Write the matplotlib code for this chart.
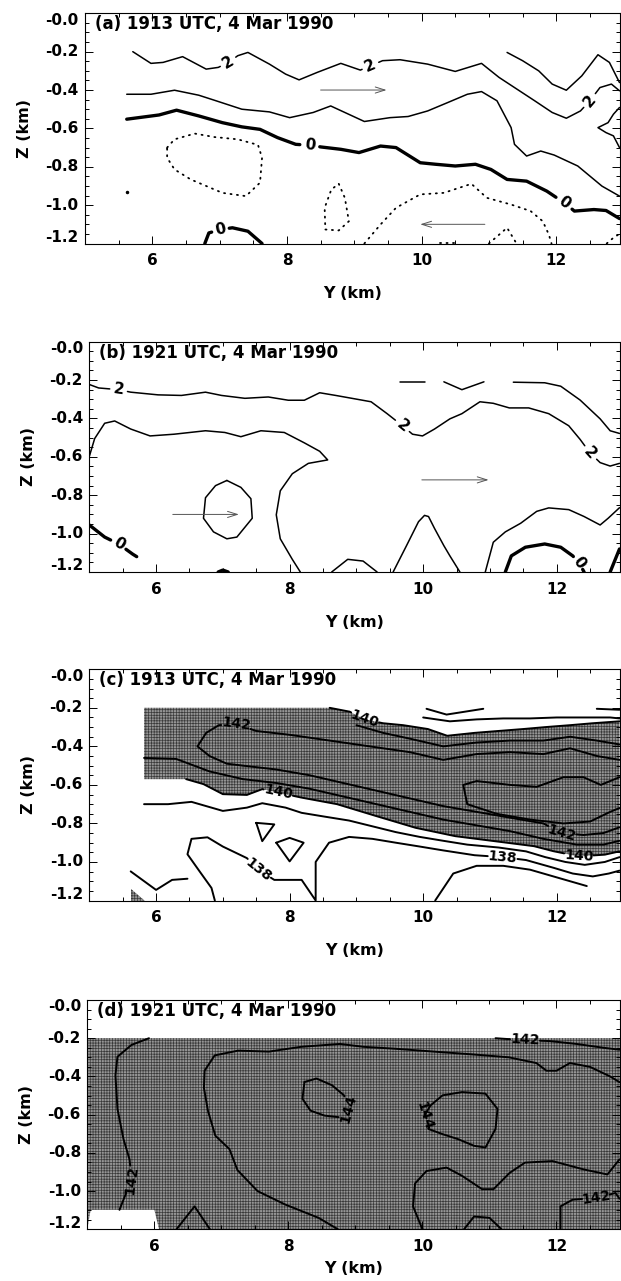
import numpy as np
import matplotlib.pyplot as plt
from matplotlib.ticker import MultipleLocator

plt.rcParams['font.family'] = 'DejaVu Sans'
plt.rcParams['font.weight'] = 'bold'
plt.rcParams['hatch.linewidth'] = 0.5

# ---- common axis setup ----
x_ticks = [6, 8, 10, 12]
z_ticks = [0.0, -0.2, -0.4, -0.6, -0.8, -1.0, -1.2]
z_ticklabels = ['-0.0', '-0.2', '-0.4', '-0.6', '-0.8', '-1.0', '-1.2']
titles = ['(a) 1913 UTC, 4 Mar 1990', '(b) 1921 UTC, 4 Mar 1990',
          '(c) 1913 UTC, 4 Mar 1990', '(d) 1921 UTC, 4 Mar 1990']

# ---- panel (a): cross-section, contour lines ----
a_2top_y = [5.71, 5.98, 6.16, 6.45, 6.80, 6.98, 7.13, 7.27, 7.42, 7.74, 7.98, 8.18, 8.45, 8.80, 9.09,
            9.24, 9.42, 9.68, 10.09, 10.50, 10.89, 11.15, 11.38, 11.68, 11.94, 12.15, 12.36, 12.50,
            12.65, 12.82, 12.94]
a_2top_z = [-0.200, -0.261, -0.256, -0.226, -0.291, -0.282, -0.256, -0.221, -0.204, -0.265, -0.317,
            -0.347, -0.308, -0.261, -0.296, -0.274, -0.247, -0.242, -0.265, -0.303, -0.261, -0.334,
            -0.387, -0.456, -0.517, -0.547, -0.509, -0.456, -0.387, -0.369, -0.404]
a_2right_y = [11.27, 11.50, 11.74, 11.94, 12.15, 12.38, 12.62, 12.79, 12.94]
a_2right_z = [-0.204, -0.247, -0.300, -0.369, -0.401, -0.326, -0.216, -0.256, -0.361]
a_1_y = [5.62, 5.98, 6.33, 6.69, 6.92, 7.33, 7.74, 8.04, 8.39, 8.65, 8.86, 9.15, 9.53, 9.80, 10.09,
         10.39, 10.68, 10.89, 11.12, 11.33, 11.38, 11.56, 11.77, 11.97, 12.32, 12.68, 12.94]
a_1_z = [-0.422, -0.422, -0.401, -0.427, -0.453, -0.500, -0.514, -0.544, -0.517, -0.483, -0.517,
         -0.564, -0.544, -0.538, -0.509, -0.465, -0.422, -0.408, -0.456, -0.596, -0.683, -0.744,
         -0.718, -0.739, -0.796, -0.901, -0.953]
a_loop_y = [12.94, 12.85, 12.77, 12.62, 12.74, 12.85, 12.94]
a_loop_z = [-0.491, -0.526, -0.570, -0.596, -0.622, -0.639, -0.700]
a_0_y = [5.62, 6.10, 6.36, 6.69, 7.04, 7.33, 7.60, 7.86, 8.13, 8.34, 8.51, 8.80, 9.07, 9.39, 9.62,
         9.98, 10.21, 10.50, 10.80, 11.03, 11.27, 11.56, 11.86, 12.12, 12.27, 12.56, 12.74, 12.94]
a_0_z = [-0.552, -0.530, -0.505, -0.535, -0.570, -0.592, -0.605, -0.648, -0.683, -0.688, -0.697,
         -0.709, -0.726, -0.692, -0.700, -0.779, -0.787, -0.796, -0.787, -0.814, -0.866, -0.875,
         -0.927, -0.988, -1.031, -1.023, -1.028, -1.070]
a_0low_y = [6.78, 6.84, 7.01, 7.19, 7.42, 7.63]
a_0low_z = [-1.20, -1.145, -1.127, -1.118, -1.136, -1.20]
a_neg1_y = [6.22, 6.33, 6.63, 6.92, 7.27, 7.57, 7.63, 7.60, 7.39, 7.04, 6.57, 6.33, 6.22, 6.22]
a_neg1_z = [-0.700, -0.657, -0.627, -0.645, -0.657, -0.686, -0.753, -0.883, -0.953, -0.936, -0.866,
            -0.814, -0.753, -0.700]
a_neg2_y = [8.77, 8.86, 8.92, 8.77, 8.57, 8.56, 8.66, 8.77]
a_neg2_z = [-0.889, -0.962, -1.084, -1.132, -1.127, -1.014, -0.918, -0.889]
a_neg3_y = [9.15, 9.39, 9.62, 9.98, 10.33, 10.74, 10.97, 11.33, 11.62, 11.80, 11.89, 11.93]
a_neg3_z = [-1.20, -1.101, -1.014, -0.944, -0.936, -0.889, -0.962, -0.997, -1.031, -1.084, -1.153, -1.20]
a_neg4_y = [11.00, 11.27, 11.41]
a_neg4_z = [-1.20, -1.118, -1.20]
a_neg5_y = [10.28, 10.50]
a_neg5_z = [-1.195, -1.195]
a_neg6_y = [12.75, 12.85, 12.94]
a_neg6_z = [-1.20, -1.17, -1.15]
a_dot_y = [5.63]
a_dot_z = [-0.93]
a_arrows = [((8.50, -0.40), (9.48, -0.40)), ((10.94, -1.10), (9.98, -1.10))]

# ---- panel (b) ----
b_2_y = [5.00, 5.14, 5.44, 5.62, 6.03, 6.38, 6.74, 6.98, 7.33, 7.68, 7.98, 8.22, 8.45, 8.69, 8.98,
         9.22, 9.46, 9.69, 9.84, 9.99, 10.17, 10.40, 10.58, 10.85, 11.05, 11.29, 11.58, 11.88,
         12.18, 12.35, 12.50, 12.65, 12.80, 12.94]
b_2_z = [-0.223, -0.241, -0.250, -0.263, -0.277, -0.280, -0.263, -0.280, -0.295, -0.288, -0.305,
         -0.305, -0.266, -0.280, -0.298, -0.313, -0.375, -0.438, -0.482, -0.491, -0.455, -0.402,
         -0.375, -0.313, -0.321, -0.345, -0.345, -0.375, -0.438, -0.509, -0.580, -0.630, -0.648,
         -0.634]
b_top1_y = [9.66, 10.02]
b_top1_z = [-0.209, -0.209]
b_top2_y = [10.31, 10.58, 10.91]
b_top2_z = [-0.209, -0.250, -0.209]
b_top3_y = [11.35, 11.82, 12.06, 12.35, 12.65, 12.80, 12.94]
b_top3_z = [-0.211, -0.214, -0.232, -0.304, -0.402, -0.464, -0.478]
b_big_y = [5.00, 5.08, 5.23, 5.38, 5.62, 5.91, 6.27, 6.74, 7.03, 7.27, 7.57, 7.92, 8.22, 8.45,
           8.57, 8.28, 8.04, 7.86, 7.80, 7.86, 8.04, 8.16]
b_big_z = [-0.598, -0.505, -0.425, -0.413, -0.455, -0.491, -0.482, -0.464, -0.473, -0.495, -0.464,
           -0.473, -0.527, -0.571, -0.616, -0.634, -0.688, -0.777, -0.902, -1.027, -1.134, -1.20]
b_ring_y = [7.06, 7.27, 7.42, 7.44, 7.21, 7.06, 6.86, 6.71, 6.74, 6.89, 7.06]
b_ring_z = [-0.723, -0.759, -0.818, -0.920, -1.018, -1.027, -0.991, -0.920, -0.813, -0.750, -0.723]
b_bump_y = [8.63, 8.87, 9.10, 9.31]
b_bump_z = [-1.20, -1.134, -1.143, -1.20]
b_spike_y = [9.55, 9.75, 9.93, 10.02, 10.08, 10.17, 10.31, 10.40, 10.55]
b_spike_z = [-1.20, -1.063, -0.938, -0.905, -0.911, -0.973, -1.063, -1.116, -1.20]
b_right_y = [10.93, 11.05, 11.23, 11.46, 11.70, 11.88, 12.18, 12.41, 12.65, 12.77, 12.94]
b_right_z = [-1.20, -1.045, -0.991, -0.946, -0.884, -0.866, -0.875, -0.911, -0.955, -0.920, -0.865]
b_0r_y = [11.23, 11.32, 11.53, 11.82, 12.06, 12.24, 12.33, 12.41]
b_0r_z = [-1.20, -1.116, -1.071, -1.054, -1.071, -1.116, -1.150, -1.20]
b_0l_y = [5.00, 5.23, 5.44, 5.65, 5.71]
b_0l_z = [-0.955, -1.018, -1.054, -1.107, -1.120]
b_0e_y = [12.80, 12.94]
b_0e_z = [-1.20, -1.08]
b_0s_y = [6.93, 7.00, 7.08]
b_0s_z = [-1.20, -1.19, -1.20]
b_arrows = [((6.25, -0.90), (7.24, -0.90)), ((9.98, -0.72), (10.98, -0.72))]

# ---- panel (c): theta-e, shaded >= 140 ----
c_top140_y = [8.60, 8.90, 9.12, 9.40, 9.70, 10.07, 10.36, 10.77, 11.13, 11.50, 11.83, 12.20, 12.54, 12.94]
c_top140_z = [-0.20, -0.22, -0.26, -0.28, -0.29, -0.31, -0.345, -0.33, -0.32, -0.31, -0.30, -0.29,
              -0.28, -0.27]
c_bot140_y = [5.82, 6.45, 6.71, 7.00, 7.36, 7.59, 7.83, 8.18, 8.71, 9.30, 9.89, 10.48, 11.07, 11.66,
              11.95, 12.33, 12.72, 12.94]
c_bot140_z = [-0.57, -0.57, -0.596, -0.648, -0.652, -0.622, -0.640, -0.666, -0.700, -0.762, -0.823,
              -0.866, -0.892, -0.918, -0.944, -0.971, -0.962, -0.945]
c_142_y = [12.94, 12.70, 12.40, 12.07, 11.80, 11.30, 10.80, 10.30, 9.80, 9.30, 8.80, 8.30, 7.80,
           7.30, 7.06, 6.80, 6.62, 6.75, 6.94, 7.20, 7.50, 8.00, 8.60, 9.20, 9.80, 10.30, 10.80,
           11.30, 11.80, 12.20, 12.60, 12.94]
c_142_z = [-0.82, -0.85, -0.86, -0.85, -0.80, -0.77, -0.74, -0.71, -0.67, -0.63, -0.59, -0.55, -0.52,
           -0.50, -0.49, -0.45, -0.40, -0.33, -0.29, -0.285, -0.32, -0.34, -0.37, -0.40, -0.43,
           -0.47, -0.44, -0.43, -0.44, -0.41, -0.45, -0.47]
c_141a_y = [5.82, 6.30, 6.80, 7.30, 7.80, 8.30, 8.80, 9.30, 9.80, 10.30, 10.80, 11.30, 11.80, 12.30,
            12.70, 12.94]
c_141a_z = [-0.46, -0.465, -0.53, -0.57, -0.59, -0.62, -0.66, -0.70, -0.74, -0.78, -0.81, -0.84,
            -0.88, -0.91, -0.91, -0.89]
c_141b_y = [9.00, 9.40, 9.80, 10.30, 10.80, 11.30, 11.80, 12.20, 12.60, 12.94]
c_141b_z = [-0.29, -0.33, -0.36, -0.40, -0.38, -0.37, -0.37, -0.35, -0.37, -0.39]
c_143_y = [12.94, 12.66, 12.40, 12.10, 11.70, 11.30, 10.80, 10.60, 10.66, 11.10, 11.60, 12.10, 12.50,
           12.80, 12.94]
c_143_z = [-0.56, -0.60, -0.56, -0.56, -0.61, -0.60, -0.58, -0.60, -0.70, -0.75, -0.78, -0.80, -0.79,
           -0.74, -0.72]
c_139top_y = [10.05, 10.35, 10.90]
c_139top_z = [-0.205, -0.235, -0.205]
c_139topr_y = [12.60, 12.94]
c_139topr_z = [-0.205, -0.21]
c_139u_y = [10.00, 10.40, 10.80, 11.20, 11.60, 12.00, 12.40, 12.80, 12.94]
c_139u_z = [-0.25, -0.27, -0.26, -0.255, -0.255, -0.25, -0.25, -0.25, -0.255]
c_139_y = [5.82, 6.18, 6.53, 7.00, 7.36, 7.59, 7.94, 8.18, 8.53, 8.89, 9.24, 9.59, 9.95, 10.30,
           10.66, 11.13, 11.54, 11.83, 12.13, 12.42, 12.72, 12.94]
c_139_z = [-0.70, -0.70, -0.688, -0.735, -0.718, -0.695, -0.718, -0.745, -0.765, -0.785, -0.815,
           -0.845, -0.870, -0.890, -0.910, -0.925, -0.945, -0.975, -1.000, -1.015, -1.000, -0.975]
c_138_y = [6.88, 6.83, 6.65, 6.47, 6.53, 6.77, 7.00, 7.36, 7.53, 7.77, 8.18, 8.39, 8.39, 8.59, 8.89,
           9.24, 9.59, 9.95, 10.30, 10.77, 11.19, 11.54, 11.95, 12.24, 12.54, 12.78, 12.94]
c_138_z = [-1.20, -1.135, -1.048, -0.960, -0.880, -0.872, -0.920, -0.980, -1.040, -1.093, -1.093,
           -1.20, -1.00, -0.90, -0.87, -0.88, -0.90, -0.92, -0.94, -0.965, -0.975, -0.99, -1.03,
           -1.06, -1.075, -1.06, -1.045]
c_137_y = [10.18, 10.45, 10.80, 11.20, 11.60, 12.00, 12.45]
c_137_z = [-1.20, -1.06, -1.02, -1.02, -1.04, -1.08, -1.125]
c_tri1_y = [7.50, 7.77, 7.59, 7.50]
c_tri1_z = [-0.797, -0.805, -0.892, -0.797]
c_tri2_y = [7.80, 8.00, 8.21, 8.00, 7.80]
c_tri2_z = [-0.90, -0.875, -0.90, -0.997, -0.90]
c_low_y = [5.62, 6.00, 6.24, 6.47]
c_low_z = [-1.049, -1.145, -1.093, -1.087]
c_corner_y = [5.62, 5.62, 5.83]
c_corner_z = [-1.14, -1.20, -1.20]

# ---- panel (d) ----
d_white_y = [5.00, 5.05, 6.00, 6.07]
d_white_z = [-1.20, -1.098, -1.098, -1.20]
d_left_y = [5.92, 5.66, 5.45, 5.42, 5.45, 5.54, 5.63, 5.66, 5.54, 5.48]
d_left_z = [-0.20, -0.235, -0.297, -0.394, -0.570, -0.728, -0.834, -0.940, -1.045, -1.098]
d_big_y = [8.74, 8.45, 7.95, 7.54, 7.24, 7.12, 6.91, 6.80, 6.74, 6.75, 6.90, 7.25, 7.71, 8.19, 8.77,
           9.12, 9.59, 10.17, 10.76, 11.29, 11.70, 11.85, 12.00, 12.20, 12.50, 12.80, 12.94]
d_big_z = [-1.20, -1.14, -1.07, -1.00, -0.89, -0.78, -0.71, -0.58, -0.46, -0.37, -0.29, -0.265,
           -0.27, -0.245, -0.23, -0.245, -0.255, -0.27, -0.285, -0.30, -0.33, -0.37, -0.37, -0.33,
           -0.35, -0.40, -0.43]
d_top_y = [11.09, 11.30, 11.53, 11.90, 12.30, 12.70, 12.94]
d_top_z = [-0.20, -0.205, -0.21, -0.215, -0.23, -0.25, -0.26]
d_144a_y = [8.24, 8.42, 8.65, 8.83, 8.89, 8.77, 8.54, 8.33, 8.21, 8.24]
d_144a_z = [-0.429, -0.411, -0.446, -0.499, -0.570, -0.614, -0.605, -0.579, -0.517, -0.429]
d_144b_y = [10.03, 10.12, 10.30, 10.59, 10.94, 11.12, 11.09, 10.94, 10.77, 10.53, 10.30, 10.09, 10.03]
d_144b_z = [-0.605, -0.552, -0.499, -0.482, -0.490, -0.570, -0.675, -0.772, -0.763, -0.728, -0.702,
            -0.675, -0.605]
d_bumpl_y = [6.33, 6.60, 6.83]
d_bumpl_z = [-1.20, -1.08, -1.20]
d_low_y = [10.00, 9.86, 9.89, 10.06, 10.36, 10.59, 10.89, 11.06, 11.30, 11.53, 11.94, 12.41, 12.76,
           12.94]
d_low_z = [-1.20, -1.08, -0.96, -0.895, -0.877, -0.92, -0.99, -0.99, -0.905, -0.851, -0.843, -0.887,
           -0.913, -0.834]
d_bump_y = [10.62, 10.77, 11.00, 11.18]
d_bump_z = [-1.20, -1.133, -1.14, -1.20]
d_142r_y = [12.06, 12.06, 12.24, 12.59, 12.88, 12.94]
d_142r_z = [-1.20, -1.08, -1.045, -1.036, -1.01, -1.04]

SX, SZ = 67.0, 191.0   # approx. pixels per km along Y and Z


def contour_line(ax, ys, zs, lw=1.1, ls='-', labels=(), fs=11):
    """Draw a polyline; each label (index, text, half gap px) breaks the line."""
    ys = np.asarray(ys, float)
    zs = np.asarray(zs, float)
    s = np.concatenate([[0], np.cumsum(np.hypot(np.diff(ys) * SX, np.diff(zs) * SZ))])
    cuts = []
    for idx, txt, h in labels:
        s0 = s[idx]
        a, b = s0 - h, s0 + h
        cuts.append((a, b))
        ang = np.degrees(np.arctan2((np.interp(b, s, zs) - np.interp(a, s, zs)) * SZ,
                                    (np.interp(b, s, ys) - np.interp(a, s, ys)) * SX))
        if ang > 90:
            ang -= 180
        if ang < -90:
            ang += 180
        ax.text(np.interp(s0, s, ys), np.interp(s0, s, zs), txt, rotation=ang,
                ha='center', va='center', fontsize=fs, fontweight='bold',
                rotation_mode='anchor', zorder=5)
    bounds = [s[0]]
    for a, b in sorted(cuts):
        bounds += [a, b]
    bounds.append(s[-1])
    for a, b in zip(bounds[::2], bounds[1::2]):
        if b <= a:
            continue
        inner = (s > a) & (s < b)
        py = np.concatenate([[np.interp(a, s, ys)], ys[inner], [np.interp(b, s, ys)]])
        pz = np.concatenate([[np.interp(a, s, zs)], zs[inner], [np.interp(b, s, zs)]])
        kw = dict(color='black', lw=lw, solid_joinstyle='round', solid_capstyle='round')
        if ls == 'dot':
            kw.update(ls=(0, (0.6, 3.0)), dash_capstyle='round')
        ax.plot(py, pz, **kw)


def shade(ax, ys, zs):
    ax.fill(ys, zs, facecolor='#959595', edgecolor='#3a3a3a', hatch='++++++', lw=0, zorder=0)


def arrow(ax, start, end):
    ax.annotate('', xy=end, xytext=start,
                arrowprops=dict(arrowstyle='->,head_length=0.7,head_width=0.22',
                                color='#555555', lw=0.7, shrinkA=0, shrinkB=0))


W, H = 621, 1281
fig = plt.figure(figsize=(W / 100, H / 100), dpi=100)
boxes = [(85, 13.3, 619.5, 243.5), (89.3, 341.7, 619.5, 572.0),
         (89.3, 669.3, 619.5, 900.5), (87.3, 1000.0, 619.5, 1229.3)]
axs = [fig.add_axes([l / W, 1 - b / H, (r - l) / W, (b - t) / H]) for l, t, r, b in boxes]
xlabel_pos = [-0.185, -0.185, -0.185, -0.14]

for ax, title, xl in zip(axs, titles, xlabel_pos):
    ax.set_xlim(5, 12.94)
    ax.set_ylim(-1.2, 0)
    ax.set_xticks(x_ticks)
    ax.xaxis.set_minor_locator(MultipleLocator(0.5))
    ax.set_yticks(z_ticks)
    ax.set_yticklabels([])
    ax.yaxis.set_minor_locator(MultipleLocator(0.05))
    ax.tick_params(which='both', direction='in', top=True, right=True, width=0.7)
    ax.tick_params(which='major', length=6, labelsize=11, pad=7)
    ax.tick_params(which='minor', length=3)
    for sp in ax.spines.values():
        sp.set_linewidth(0.8)
    for z, lab in zip(z_ticks, z_ticklabels):
        dz = -0.035 if z == 0 else (0.032 if z == -1.2 else 0)
        ax.text(-0.012, z + dz, lab, transform=ax.get_yaxis_transform(),
                ha='right', va='center', fontsize=11, fontweight='bold')
    ax.set_xlabel('Y (km)', fontsize=11.5, fontweight='bold')
    ax.xaxis.set_label_coords(0.5, xl)
    ax.set_ylabel('Z (km)', fontsize=11.5, fontweight='bold')
    ax.yaxis.set_label_coords(-0.1, 0.5)
    ax.text(0.018, 0.952, title, transform=ax.transAxes, ha='left', va='center',
            fontsize=12, fontweight='bold', zorder=6)

# (a)
ax = axs[0]
contour_line(ax, a_2top_y, a_2top_z, labels=[(6, '2', 9), (15, '2', 9), (27, '2', 9)])
contour_line(ax, a_2right_y, a_2right_z)
contour_line(ax, a_1_y, a_1_z)
contour_line(ax, a_loop_y, a_loop_z)
contour_line(ax, a_0_y, a_0_z, lw=2.4, labels=[(9, '0', 10), (23, '0', 10)])
contour_line(ax, a_0low_y, a_0low_z, lw=2.4, labels=[(2, '0', 9)])
for ys, zs in [(a_neg1_y, a_neg1_z), (a_neg2_y, a_neg2_z), (a_neg3_y, a_neg3_z),
               (a_neg4_y, a_neg4_z), (a_neg5_y, a_neg5_z), (a_neg6_y, a_neg6_z)]:
    contour_line(ax, ys, zs, lw=1.3, ls='dot')
ax.plot(a_dot_y, a_dot_z, 'o', color='black', ms=1.5)
for st, en in a_arrows:
    arrow(ax, st, en)

# (b)
ax = axs[1]
contour_line(ax, b_2_y, b_2_z, labels=[(2, '2', 9), (17, '2', 9), (30, '2', 9)])
for ys, zs in [(b_top1_y, b_top1_z), (b_top2_y, b_top2_z), (b_top3_y, b_top3_z),
               (b_big_y, b_big_z), (b_ring_y, b_ring_z), (b_bump_y, b_bump_z),
               (b_spike_y, b_spike_z), (b_right_y, b_right_z)]:
    contour_line(ax, ys, zs)
contour_line(ax, b_0r_y, b_0r_z, lw=2.4, labels=[(6, '0', 8)])
contour_line(ax, b_0l_y, b_0l_z, lw=2.4, labels=[(2, '0', 9)])
contour_line(ax, b_0e_y, b_0e_z, lw=2.4)
contour_line(ax, b_0s_y, b_0s_z, lw=2.4)
for st, en in b_arrows:
    arrow(ax, st, en)

# (c)
ax = axs[2]
shade_y = np.concatenate([[5.82], c_top140_y, [12.94], c_bot140_y[::-1]])
shade_z = np.concatenate([[-0.2], c_top140_z, [c_bot140_z[-1]], c_bot140_z[::-1]])
shade(ax, shade_y, shade_z)
shade(ax, c_corner_y, c_corner_z)
contour_line(ax, c_top140_y, c_top140_z, lw=1.4, labels=[(2, '140', 15)], fs=10)
contour_line(ax, c_bot140_y[1:], c_bot140_z[1:], lw=1.4, labels=[(5, '140', 15), (14, '140', 15)], fs=10)
contour_line(ax, c_142_y, c_142_z, lw=1.4, labels=[(3, '142', 15), (19, '142', 15)], fs=10)
for ys, zs in [(c_141a_y, c_141a_z), (c_141b_y, c_141b_z), (c_143_y, c_143_z),
               (c_139top_y, c_139top_z), (c_139topr_y, c_139topr_z), (c_139u_y, c_139u_z),
               (c_139_y, c_139_z), (c_137_y, c_137_z), (c_tri1_y, c_tri1_z),
               (c_tri2_y, c_tri2_z), (c_low_y, c_low_z)]:
    contour_line(ax, ys, zs, lw=1.4)
contour_line(ax, c_138_y, c_138_z, lw=1.4, labels=[(8, '138', 15), (20, '138', 15)], fs=10)

# (d)
ax = axs[3]
shade(ax, [5, 12.94, 12.94, 5], [-0.2, -0.2, -1.2, -1.2])
ax.fill(d_white_y, d_white_z, color='white', lw=0, zorder=0.5)
contour_line(ax, d_left_y, d_left_z, lw=1.4, labels=[(7, '142', 14)], fs=10)
contour_line(ax, d_big_y, d_big_z, lw=1.4)
contour_line(ax, d_top_y, d_top_z, lw=1.4, labels=[(2, '142', 15)], fs=10)
contour_line(ax, d_144a_y, d_144a_z, lw=1.4, labels=[(4, '144', 13)], fs=10)
contour_line(ax, d_144b_y, d_144b_z, lw=1.4, labels=[(12, '144', 13)], fs=10)
for ys, zs in [(d_bumpl_y, d_bumpl_z), (d_low_y, d_low_z), (d_bump_y, d_bump_z)]:
    contour_line(ax, ys, zs, lw=1.4)
contour_line(ax, d_142r_y, d_142r_z, lw=1.4, labels=[(3, '142', 14)], fs=10)

fig.savefig('out.png', dpi=100)
